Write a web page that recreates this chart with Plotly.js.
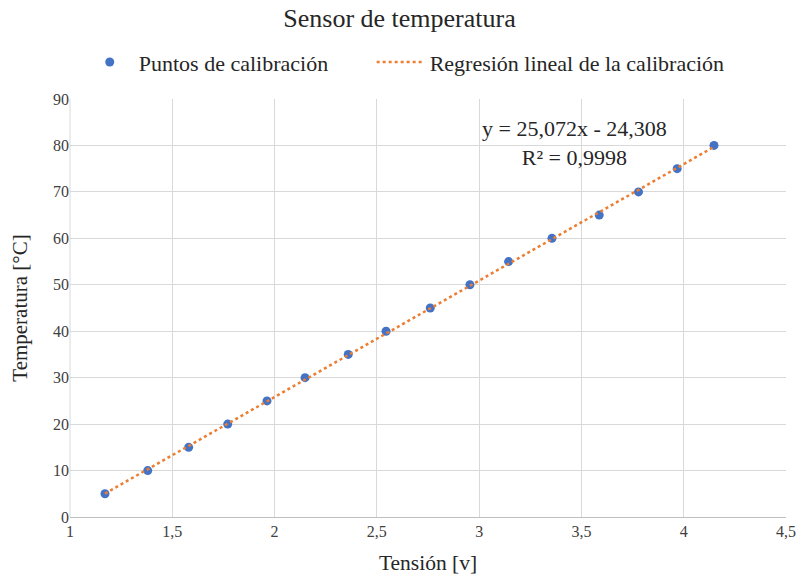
<!DOCTYPE html>
<html>
<head>
<meta charset="utf-8">
<script src="https://cdn.plot.ly/plotly-3.0.1.min.js"></script>
<style>html,body{margin:0;padding:0;background:#fff;}#chart{width:799px;height:576px;}</style>
</head>
<body>
<div id="chart"></div>
<script>
// Calibration points
var tension = [1.171, 1.380, 1.580, 1.771, 1.963, 2.149, 2.360, 2.545, 2.761, 2.955, 3.144, 3.356, 3.587, 3.779, 3.968, 4.148];
var temperatura = [5, 10, 15, 20, 25, 30, 35, 40, 45, 50, 55, 60, 65, 70, 75, 80];
// Displayed regression: y = 25,072x - 24,308
var regCoef = [25.072, -24.308];
var trendX = [1.171, 4.148];
var trendY = trendX.map(function (x) { return regCoef[0] * x + regCoef[1]; });
var seriesNames = ['Puntos de calibración', 'Regresión lineal de la calibración'];

var serif = '"Liberation Serif", "Times New Roman", serif';
var pad = '\u00a0\u00a0\u00a0\u00a0\u00a0\u00a0\u00a0';

var traces = [
  {
    x: tension, y: temperatura, type: 'scatter', mode: 'markers',
    name: seriesNames[0] + pad,
    marker: { color: '#4472C4', size: 9 }
  },
  {
    x: trendX, y: trendY, type: 'scatter', mode: 'lines',
    name: seriesNames[1],
    line: { color: '#ED7D31', width: 2.5, dash: 'dot' }
  }
];

var layout = {
  width: 799, height: 576,
  margin: { l: 70, r: 13, t: 99, b: 59 },
  paper_bgcolor: '#fff', plot_bgcolor: '#fff',
  separators: ', ',
  font: { family: serif, color: '#262626', size: 16 },
  title: { text: 'Sensor de temperatura', font: { family: serif, size: 26, color: '#262626' }, x: 0.5, xanchor: 'center', y: 0.969, yanchor: 'middle' },
  showlegend: true,
  legend: { orientation: 'h', x: 0.015, xanchor: 'left', y: 1.088, yanchor: 'middle', font: { family: serif, size: 22, color: '#262626' }, itemwidth: 48 },
  xaxis: {
    range: [1, 4.5], dtick: 0.5, tick0: 1,
    showgrid: true, gridcolor: '#d9d9d9', gridwidth: 1,
    zeroline: false, showline: true, linecolor: '#bfbfbf', linewidth: 1,
    ticks: '', ticklen: 0,
    tickfont: { family: serif, size: 16, color: '#404040' },
    title: { text: 'Tensión [v]', font: { family: serif, size: 21.5, color: '#262626' }, standoff: 15 }
  },
  yaxis: {
    range: [0, 90], dtick: 10,
    showgrid: true, gridcolor: '#d9d9d9', gridwidth: 1,
    zeroline: false, showline: false,
    ticks: '', ticklen: 0,
    tickfont: { family: serif, size: 16, color: '#404040' },
    title: { text: 'Temperatura [°C]', font: { family: serif, size: 21, color: '#262626' }, standoff: 19 }
  },
  shapes: [
    { type: 'line', xref: 'paper', yref: 'paper', x0: 0, x1: 0, y0: 0, y1: 1, line: { color: '#d9d9d9', width: 1 } }
  ],
  annotations: [
    { xref: 'paper', yref: 'paper', x: 0.704, y: 0.895, xanchor: 'center', yanchor: 'middle', showarrow: false, align: 'center',
      text: 'y = 25,072x - 24,308<br>R² = 0,9998', font: { family: serif, size: 22, color: '#262626' } }
  ]
};

Plotly.newPlot('chart', traces, layout, { displayModeBar: false, staticPlot: true });
</script>
</body>
</html>
